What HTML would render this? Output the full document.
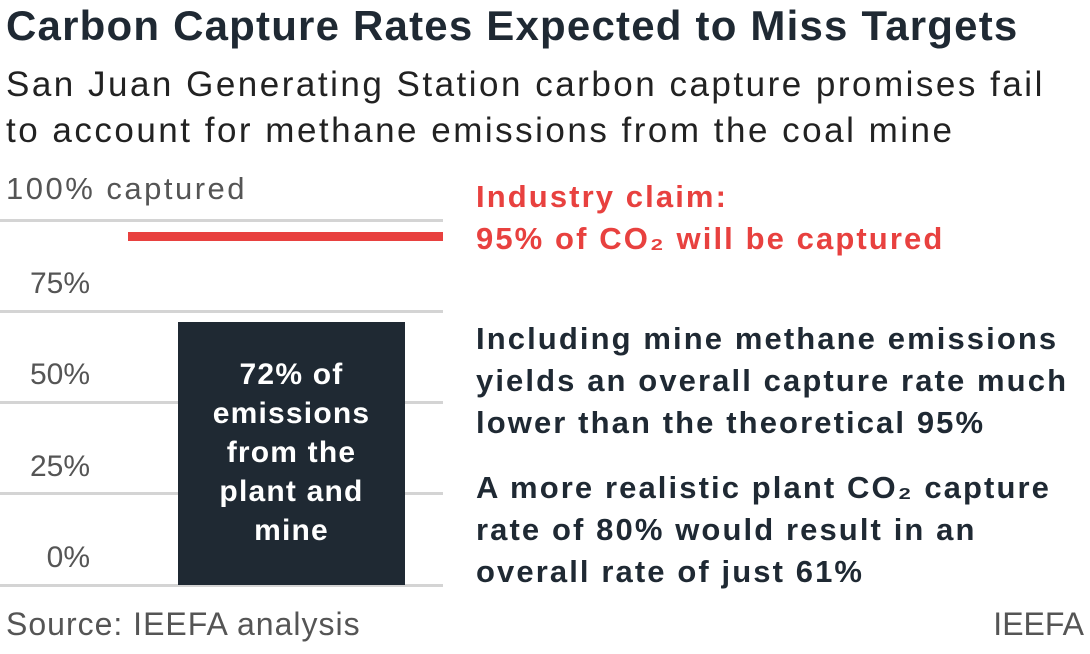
<!DOCTYPE html>
<html><head><style>
body{margin:0;width:1090px;height:654px;background:#fff;position:relative;overflow:hidden;font-family:"Liberation Sans",sans-serif;}
.a{position:absolute;white-space:nowrap;}
.g{position:absolute;left:0;width:443px;height:3px;background:#d4d4d4;}
.t{position:absolute;color:#555;font-size:30px;text-align:right;width:90px;left:0;}
.r{font-weight:bold;font-size:31px;color:#1f2933;line-height:42px;letter-spacing:2.1px;}
</style></head><body>
<div class="a" style="left:6px;top:2px;font-size:42px;font-weight:bold;color:#1f2933;letter-spacing:1.2px;">Carbon Capture Rates Expected to Miss Targets</div>
<div class="a" style="left:6px;top:62px;font-size:35px;color:#222;line-height:46px;letter-spacing:2.5px;">San Juan Generating Station carbon capture promises fail<br>to account for methane emissions from the coal mine</div>
<div class="a" style="left:6px;top:171px;font-size:31px;color:#555;letter-spacing:2.5px;">100% captured</div>
<div class="g" style="top:219px"></div>
<div class="g" style="top:310px"></div>
<div class="g" style="top:401px"></div>
<div class="g" style="top:492px"></div>
<div class="g" style="top:584px"></div>
<div class="t" style="top:267px">75%</div>
<div class="t" style="top:358px">50%</div>
<div class="t" style="top:450px">25%</div>
<div class="t" style="top:541px">0%</div>
<div class="a" style="left:128px;top:232px;width:315px;height:9px;background:#e8413f"></div>
<div class="a" style="left:178px;top:322px;width:227px;height:263px;background:#1f2933"></div>
<div class="a" style="left:178px;top:355px;width:227px;text-align:center;color:#fff;font-weight:bold;font-size:30px;line-height:39px;letter-spacing:1.2px;white-space:normal;">72% of<br>emissions<br>from the<br>plant and<br>mine</div>
<div class="a r" style="left:476px;top:176px;color:#e8413f;">Industry claim:<br>95% of CO₂ will be captured</div>
<div class="a r" style="left:476px;top:318px;">Including mine methane emissions<br>yields an overall capture rate much<br>lower than the theoretical 95%</div>
<div class="a r" style="left:476px;top:467px;">A more realistic plant CO₂ capture<br>rate of 80% would result in an<br>overall rate of just 61%</div>
<div class="a" style="left:6px;top:606px;font-size:32px;color:#555;letter-spacing:1px;">Source: IEEFA analysis</div>
<div class="a" style="right:6px;top:606px;font-size:32px;color:#555;">IEEFA</div>
</body></html>
